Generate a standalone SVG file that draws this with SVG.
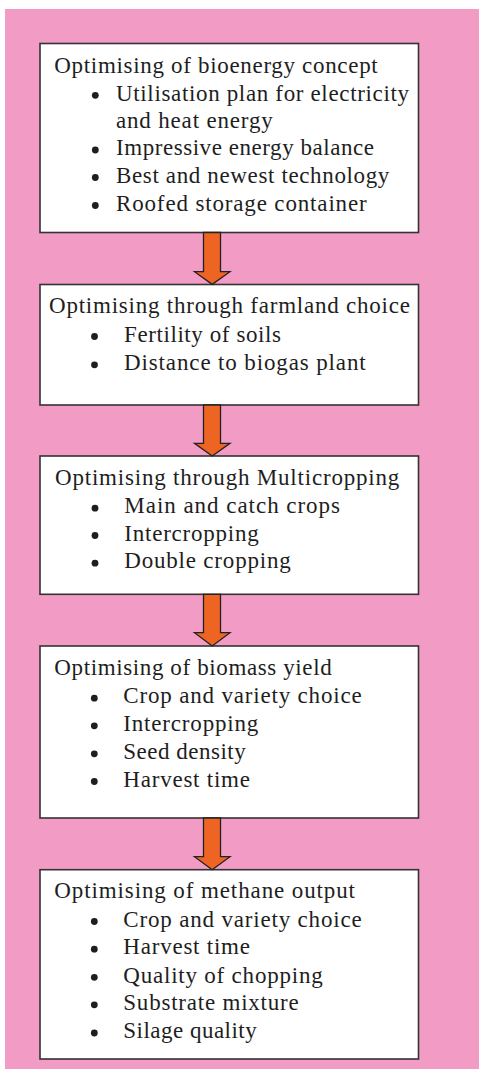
<svg xmlns="http://www.w3.org/2000/svg" width="479" height="1069" viewBox="0 0 479 1069">
<style>
.bg{fill:#F29BC4}
.box{fill:#ffffff;stroke:#333333;stroke-width:1.6}
.t{font-family:"Liberation Serif","Times New Roman",serif;font-size:23px;fill:#1e1e1e}
.b{fill:#1e1e1e}
.arr{fill:#EE6422;stroke:#222222;stroke-width:1.3;stroke-linejoin:miter}
</style>
<rect x="0" y="0" width="479" height="1069" fill="#ffffff"/>
<rect class="bg" x="5" y="9" width="474" height="1060"/>

<g id="node1">
<rect class="box" x="40" y="43.5" width="378.5" height="189"/>
<text class="t" x="54.3" y="72.7" textLength="323.4" lengthAdjust="spacing">Optimising of bioenergy concept</text>
<circle class="b" cx="95.3" cy="95.3" r="3.4"/>
<text class="t" x="116" y="100.7" textLength="293" lengthAdjust="spacing">Utilisation plan for electricity</text>
<text class="t" x="116" y="127.5" textLength="156.7" lengthAdjust="spacing">and heat energy</text>
<circle class="b" cx="95.3" cy="150" r="3.4"/>
<text class="t" x="116" y="155.3" textLength="258" lengthAdjust="spacing">Impressive energy balance</text>
<circle class="b" cx="95.3" cy="177.5" r="3.4"/>
<text class="t" x="116" y="182.7" textLength="273.3" lengthAdjust="spacing">Best and newest technology</text>
<circle class="b" cx="95.3" cy="205.5" r="3.4"/>
<text class="t" x="116" y="210.7" textLength="250.7" lengthAdjust="spacing">Roofed storage container</text>
</g>

<g id="node2">
<rect class="box" x="40" y="284.5" width="378.5" height="120.5"/>
<text class="t" x="49" y="313.3" textLength="361" lengthAdjust="spacing">Optimising through farmland choice</text>
<circle class="b" cx="94.5" cy="336.5" r="3.4"/>
<text class="t" x="124" y="341.7" textLength="157" lengthAdjust="spacing">Fertility of soils</text>
<circle class="b" cx="94.5" cy="364.8" r="3.4"/>
<text class="t" x="124" y="370" textLength="241.7" lengthAdjust="spacing">Distance to biogas plant</text>
</g>

<g id="node3">
<rect class="box" x="40" y="456" width="378.5" height="138.3"/>
<text class="t" x="55" y="485" textLength="344.3" lengthAdjust="spacing">Optimising through Multicropping</text>
<circle class="b" cx="95" cy="508.2" r="3.4"/>
<text class="t" x="124.3" y="513.3" textLength="215.7" lengthAdjust="spacing">Main and catch crops</text>
<circle class="b" cx="95" cy="535.5" r="3.4"/>
<text class="t" x="124.3" y="540.7" textLength="134.4" lengthAdjust="spacing">Intercropping</text>
<circle class="b" cx="95" cy="563.2" r="3.4"/>
<text class="t" x="124.3" y="568.3" textLength="166.4" lengthAdjust="spacing">Double cropping</text>
</g>

<g id="node4">
<rect class="box" x="40" y="646" width="378.5" height="172"/>
<text class="t" x="54.3" y="675" textLength="277.4" lengthAdjust="spacing">Optimising of biomass yield</text>
<circle class="b" cx="94.3" cy="698.2" r="3.4"/>
<text class="t" x="123.3" y="703.3" textLength="238.4" lengthAdjust="spacing">Crop and variety choice</text>
<circle class="b" cx="94.3" cy="725.8" r="3.4"/>
<text class="t" x="123.3" y="731" textLength="135" lengthAdjust="spacing">Intercropping</text>
<circle class="b" cx="94.3" cy="753.8" r="3.4"/>
<text class="t" x="123.3" y="759" textLength="122.4" lengthAdjust="spacing">Seed density</text>
<circle class="b" cx="94.3" cy="781.5" r="3.4"/>
<text class="t" x="123.3" y="786.7" textLength="126.7" lengthAdjust="spacing">Harvest time</text>
</g>

<g id="node5">
<rect class="box" x="40" y="869.7" width="378.5" height="189.3"/>
<text class="t" x="54.3" y="898.3" textLength="300.7" lengthAdjust="spacing">Optimising of methane output</text>
<circle class="b" cx="94.3" cy="921.5" r="3.4"/>
<text class="t" x="123.3" y="926.7" textLength="238.4" lengthAdjust="spacing">Crop and variety choice</text>
<circle class="b" cx="94.3" cy="949.2" r="3.4"/>
<text class="t" x="123.3" y="954.3" textLength="126.7" lengthAdjust="spacing">Harvest time</text>
<circle class="b" cx="94.3" cy="977.3" r="3.4"/>
<text class="t" x="123.3" y="982.5" textLength="199.4" lengthAdjust="spacing">Quality of chopping</text>
<circle class="b" cx="94.3" cy="1004.8" r="3.4"/>
<text class="t" x="123.3" y="1010" textLength="175.4" lengthAdjust="spacing">Substrate mixture</text>
<circle class="b" cx="94.3" cy="1033" r="3.4"/>
<text class="t" x="123.3" y="1038.3" textLength="133.4" lengthAdjust="spacing">Silage quality</text>
</g>

<g id="connectors">
<polygon class="arr" points="203.5,232.5 220.5,232.5 220.5,271.7 230,271.7 212.2,284.4 194.5,271.7 203.5,271.7"/>
<polygon class="arr" points="203.5,405 220.5,405 220.5,443.3 230,443.3 212.2,456 194.5,443.3 203.5,443.3"/>
<polygon class="arr" points="203.5,594.3 220.5,594.3 220.5,632.7 230,632.7 212.2,646 194.5,632.7 203.5,632.7"/>
<polygon class="arr" points="203.5,818 220.5,818 220.5,856.7 230,856.7 212.2,869.7 194.5,856.7 203.5,856.7"/>
</g>
</svg>
